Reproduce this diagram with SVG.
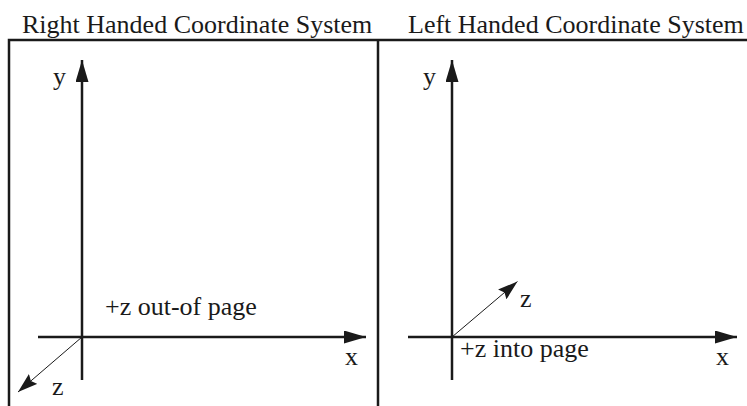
<svg xmlns="http://www.w3.org/2000/svg" width="747" height="406" viewBox="0 0 747 406">
<defs>
<style>
.t{font-family:'Liberation Serif','Tinos','DejaVu Serif','Noto Serif',serif;font-size:26px;fill:#1a1a1a}
.frame{stroke:#1a1a1a;stroke-width:2.5;fill:none}
.axis{stroke:#1a1a1a;stroke-width:2.5;fill:none}
.zax{stroke:#1a1a1a;stroke-width:1;fill:none}
</style>
<marker id="ah" markerUnits="userSpaceOnUse" markerWidth="22" markerHeight="13" refX="22" refY="6.5" orient="auto" viewBox="0 0 22 13">
<path d="M0,0 L22,6.5 L0,13 Z" fill="#1a1a1a"/>
</marker>
<marker id="zh" markerUnits="userSpaceOnUse" markerWidth="20" markerHeight="13" refX="20" refY="6.5" orient="auto" viewBox="0 0 20 13">
<path d="M0,0 L20,6.5 L0,13 L3,6.5 Z" fill="#1a1a1a"/>
</marker>
</defs>
<rect width="747" height="406" fill="#ffffff"/>
<g id="frame">
<path class="frame" d="M9,406 V40 H747 M378,40 V406"/>
</g>
<g id="titles">
<text class="t" x="22" y="33">Right Handed Coordinate System</text>
<text class="t" x="408" y="33">Left Handed Coordinate System</text>
</g>
<g id="connectors">
<line class="axis" x1="82" y1="380" x2="82" y2="60" marker-end="url(#ah)"/>
<line class="axis" x1="38" y1="337" x2="366" y2="337" marker-end="url(#ah)"/>
<line class="zax" x1="82" y1="337" x2="18" y2="392" marker-end="url(#zh)"/>
<line class="axis" x1="452" y1="380" x2="452" y2="60" marker-end="url(#ah)"/>
<line class="axis" x1="408" y1="337" x2="737" y2="337" marker-end="url(#ah)"/>
<line class="zax" x1="452" y1="337" x2="517.5" y2="281.5" marker-end="url(#zh)"/>
</g>
<g id="right-handed">
<text class="t" x="53" y="85">y</text>
<text class="t" x="345" y="365">x</text>
<text class="t" x="52" y="395">z</text>
<text class="t" x="105" y="315">+z out-of page</text>
</g>
<g id="left-handed">
<text class="t" x="423" y="85">y</text>
<text class="t" x="716" y="365">x</text>
<text class="t" x="520" y="307">z</text>
<text class="t" x="460" y="357">+z into page</text>
</g>
</svg>
